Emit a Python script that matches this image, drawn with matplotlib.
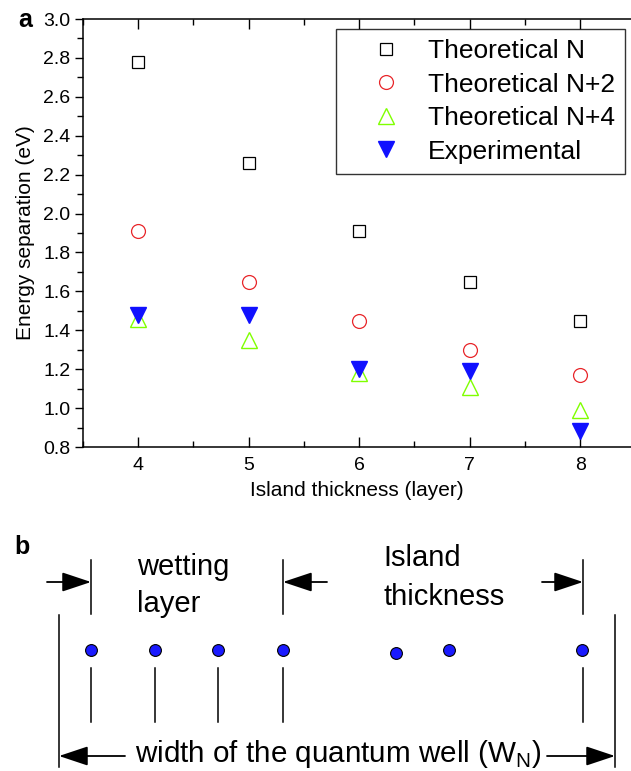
import numpy as np
import matplotlib
matplotlib.use("Agg")
import matplotlib.pyplot as plt
from matplotlib.ticker import MultipleLocator, FormatStrFormatter

plt.rcParams['font.family'] = ['Liberation Sans', 'DejaVu Sans']

# panel a data
layers = [4, 5, 6, 7, 8]
theo_n = [2.78, 2.26, 1.91, 1.65, 1.45]
theo_n2 = [1.91, 1.65, 1.45, 1.30, 1.17]
theo_n4 = [1.46, 1.35, 1.18, 1.11, 0.99]
experimental = [1.48, 1.48, 1.20, 1.19, 0.88]

# panel b sketch (pixel positions of the schematic atoms)
atom_x = [91, 155, 218, 283, 396, 449, 582]
atom_y = [650, 650, 650, 650, 653, 650, 650]
tick_x = [91, 155, 218, 283, 583]

W, H = 631, 771
fig = plt.figure(figsize=(W / 100, H / 100), dpi=100)

# ---- panel a ----
ax = fig.add_axes([83 / W, 1 - 447 / H, (W - 83) / W, (447 - 19) / H])
ax.plot(layers, theo_n, 's', ms=9, mfc='none', mec='black', mew=0.9, label='Theoretical N')
ax.plot(layers, theo_n2, 'o', ms=10, mfc='none', mec='#e8262a', mew=0.9, label='Theoretical N+2')
ax.plot(layers, theo_n4, '^', ms=11, mfc='none', mec='#7fff00', mew=1.0, label='Theoretical N+4')
ax.plot(layers, experimental, 'v', ms=11, mfc='#1010ff', mec='#1010ff', label='Experimental')

ax.set_xlim(3.5, 8.46)
ax.set_ylim(0.8, 3.0)
ax.xaxis.set_major_locator(MultipleLocator(1))
ax.xaxis.set_minor_locator(MultipleLocator(0.5))
ax.yaxis.set_major_locator(MultipleLocator(0.2))
ax.yaxis.set_minor_locator(MultipleLocator(0.1))
ax.yaxis.set_major_formatter(FormatStrFormatter('%.1f'))
ax.spines['right'].set_visible(False)
for s in ['left', 'bottom', 'top']:
    ax.spines[s].set_linewidth(1.1)
ax.tick_params(axis='x', which='both', direction='in', top=True, labelsize=14, width=1)
ax.tick_params(axis='x', which='major', length=7, pad=7)
ax.tick_params(axis='x', which='minor', length=4)
ax.tick_params(axis='y', which='both', direction='out', labelsize=14, width=1)
ax.tick_params(axis='y', which='major', length=6, pad=3)
ax.tick_params(axis='y', which='minor', length=4)
ax.set_xlabel('Island thickness (layer)', fontsize=15, labelpad=5)
ax.set_ylabel('Energy separation (eV)', fontsize=15, labelpad=6)

leg = ax.legend(loc='upper right', bbox_to_anchor=(1 - 6 / 548, 1 - 10 / 428), fontsize=19,
                frameon=True, fancybox=False, edgecolor='black', borderpad=0.38,
                handletextpad=0.05, labelspacing=0.36, handlelength=3.05, borderaxespad=0)
leg.get_frame().set_linewidth(1.0)

fig.text(18 / W, 1 - 20 / H, 'a', fontsize=18, fontweight='bold', va='center', ha='left')

# ---- panel b ----
bx = fig.add_axes([0, 0, 1, 1], facecolor='none')
bx.set_xlim(0, W)
bx.set_ylim(H, 0)
bx.axis('off')

fig.text(22 / W, 1 - 547 / H, 'b', fontsize=18, fontweight='bold', va='center', ha='center')

lw = 1.1
# outer boundaries of the well
for x in [59, 615]:
    bx.plot([x, x], [615, 767], color='black', lw=lw)
# upper boundary markers
for x in [91, 283, 583]:
    bx.plot([x, x], [560, 614], color='black', lw=lw)
# lower lines below atoms
for x in tick_x:
    bx.plot([x, x], [668, 722], color='black', lw=lw)

bx.plot(atom_x, atom_y, 'o', ms=8.5, mfc='#1a1aff', mec='black', mew=0.8, ls='none')

arrow = dict(arrowstyle='-|>,head_length=0.9,head_width=0.3', color='black', lw=1.3,
             shrinkA=0, shrinkB=0, mutation_scale=20)
bx.annotate('', xy=(91, 582), xytext=(47, 582), arrowprops=arrow)
bx.annotate('', xy=(283, 582), xytext=(327, 582), arrowprops=arrow)
bx.annotate('', xy=(583, 582), xytext=(542, 582), arrowprops=arrow)
bx.annotate('', xy=(59, 756), xytext=(125, 756), arrowprops=arrow)
bx.annotate('', xy=(615, 756), xytext=(547, 756), arrowprops=arrow)

bx.text(137, 575, 'wetting', fontsize=21, ha='left', va='baseline')
bx.text(137, 612, 'layer', fontsize=21, ha='left', va='baseline')
bx.text(383, 566, 'Island', fontsize=21, ha='left', va='baseline')
bx.text(383, 605, 'thickness', fontsize=21, ha='left', va='baseline')
bx.text(338, 762, 'width of the quantum well (W$_\\mathregular{N}$)', fontsize=21.3,
        ha='center', va='baseline')

fig.savefig('out.png', dpi=100)
